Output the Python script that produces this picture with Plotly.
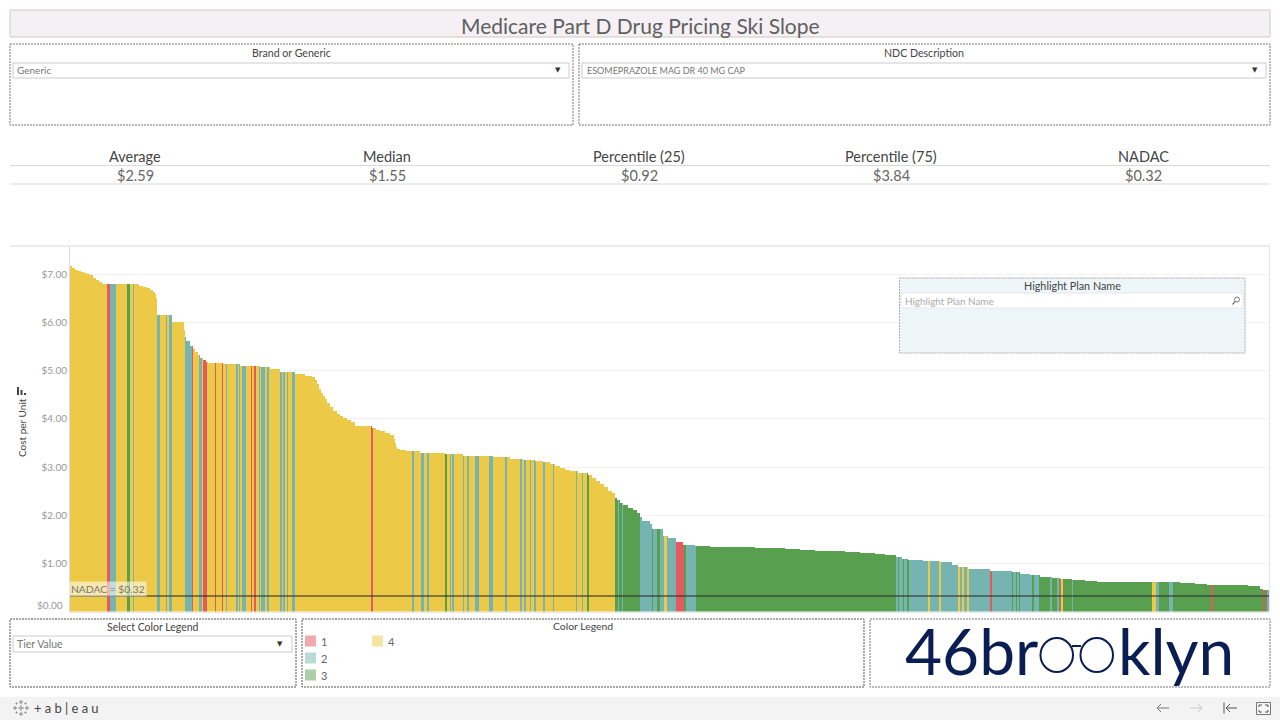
import numpy as np
import plotly.graph_objects as go

# ---- Data -----------------------------------------------------------------
TITLE = "Medicare Part D Drug Pricing Ski Slope"
kpi_names = ["Average", "Median", "Percentile (25)", "Percentile (75)", "NADAC"]
kpi_values = ["$2.59", "$1.55", "$0.92", "$3.84", "$0.32"]
nadac_cost = 0.32
y_ticks = [0, 1, 2, 3, 4, 5, 6, 7]
y_tick_labels = ["$0.00", "$1.00", "$2.00", "$3.00", "$4.00", "$5.00", "$6.00", "$7.00"]
tier_names = ["1", "2", "3", "4"]
tier_colors = {1: "#E45A5E", 2: "#76B4B1", 3: "#58A04F", 4: "#ECC946"}
legend_colors = {1: "#F2A9AB", 2: "#BADAD8", 3: "#ABCFA6", 4: "#F6E4A2"}

# Plans ordered by cost: each run ends at a plan rank and holds one cost.
cost_run_end = [2, 5, 8, 11, 14, 17, 20, 23, 26, 29, 32, 35, 69, 73, 77, 80, 83, 85, 86, 87,
                102, 114, 115, 116, 120, 123, 125, 128, 130, 133, 136, 138, 153, 170, 190, 200, 210, 225,
                235, 242, 245, 247, 249, 251, 253, 255, 257, 260, 263, 267, 270, 273, 277, 281, 285, 289,
                302, 306, 310, 315, 320, 324, 325, 326, 327, 330, 336, 350, 375, 393, 410, 423, 440, 453,
                465, 473, 480, 485, 490, 495, 500, 508, 518, 522, 526, 530, 534, 538, 542, 545, 547, 550,
                553, 558, 563, 567, 570, 572, 580, 582, 593, 598, 606, 613,
                625, 632, 640, 655, 670, 685, 700, 715, 730, 745, 760, 775, 790, 805, 815,
                826, 832, 838, 853, 870, 882, 888, 898, 920, 942, 950, 960, 970, 982, 990, 1002, 1015, 1027, 1045, 1063,
                1110, 1125, 1137, 1163, 1178, 1190, 1193, 1199]
cost_run_value = [7.17, 7.14, 7.10, 7.08, 7.06, 7.04, 7.01, 6.99, 6.93, 6.89, 6.84, 6.81, 6.80, 6.77, 6.74, 6.72,
                  6.68, 6.64, 6.60, 6.51,
                  6.16, 6.01, 5.85, 5.70, 5.62, 5.52, 5.45, 5.39, 5.33, 5.27, 5.22, 5.19, 5.16, 5.14, 5.10, 5.07, 5.03, 4.98,
                  4.93, 4.90, 4.87, 4.81, 4.73, 4.62, 4.54, 4.48, 4.41, 4.33, 4.25, 4.16, 4.11, 4.06, 4.02, 3.98, 3.94, 3.86,
                  3.85, 3.82, 3.77, 3.74, 3.71, 3.67, 3.58, 3.50, 3.42, 3.38, 3.35, 3.33, 3.30, 3.27, 3.24, 3.22, 3.20, 3.17,
                  3.15, 3.13, 3.10, 3.07, 3.02, 2.98, 2.94, 2.91, 2.88, 2.84, 2.77, 2.71, 2.65, 2.59, 2.51, 2.46, 2.36, 2.32,
                  2.25, 2.21, 2.16, 2.11, 2.05, 1.96, 1.89, 1.82, 1.72, 1.57, 1.53, 1.44,
                  1.38, 1.37, 1.36, 1.35, 1.34, 1.33, 1.32, 1.31, 1.29, 1.28, 1.26, 1.25, 1.23, 1.21, 1.19,
                  1.17, 1.13, 1.10, 1.06, 1.04, 1.02, 0.97, 0.92, 0.88, 0.85, 0.82, 0.78, 0.76, 0.72, 0.70, 0.68, 0.66, 0.64, 0.62, 0.61,
                  0.61, 0.59, 0.57, 0.56, 0.55, 0.53, 0.47, 0.45]

# Tier of the plans, as runs over the same ranks.
tier_run_end = [37, 40, 46, 57, 60, 63, 64, 87, 90, 96, 97, 99, 102, 115, 122, 123, 129, 132, 133, 137, 145, 146,
                152, 153, 156, 157, 166, 168, 169, 170, 172, 176, 181, 182, 184, 186, 189, 190, 191, 195, 197, 199,
                210, 212, 213, 215, 217, 218, 222, 225, 301, 303, 342, 344, 351, 354, 357, 359, 375, 377, 380, 381,
                382, 384, 393, 394, 397, 399, 405, 409, 419, 423, 435, 437, 450, 452, 454, 456, 460, 461, 464, 466,
                473, 475, 483, 484, 506, 507, 512, 513, 517, 519, 545, 548, 549, 552, 553, 570, 582, 583, 587, 590,
                594, 597, 606, 614, 616, 626, 826, 828, 829, 833, 834, 837, 839, 858, 860, 869, 871, 888, 890, 892,
                894, 897, 899, 920, 922, 942, 943, 946, 947, 949, 950, 962, 964, 969, 980, 982, 987, 989, 990, 991,
                993, 1002, 1003, 1082, 1086, 1089, 1099, 1103, 1141, 1143, 1192, 1193, 1196, 1197, 1199]
tier_run_id = [4, 1, 2, 4, 3, 4, 2, 4, 2, 4, 2, 4, 2, 4, 2, 1, 4, 2, 4, 1, 4, 1,
               4, 1, 4, 2, 4, 2, 4, 2, 4, 2, 4, 1, 4, 1, 4, 2, 4, 2, 4, 2,
               4, 2, 4, 2, 4, 2, 4, 2, 4, 1, 4, 2, 4, 2, 4, 2, 4, 3, 4, 2,
               4, 2, 4, 2, 4, 2, 4, 2, 4, 2, 4, 2, 4, 2, 4, 2, 4, 2, 4, 2,
               4, 2, 4, 2, 4, 2, 4, 2, 4, 3, 4, 3, 2, 3, 2, 3, 2, 3, 2, 3,
               2, 4, 2, 1, 3, 2, 3, 2, 3, 2, 3, 2, 3, 2, 4, 2, 4, 2, 4, 2,
               4, 2, 4, 2, 1, 2, 3, 2, 3, 2, 3, 2, 3, 2, 3, 2, 3, 2, 3, 1,
               4, 3, 2, 3, 4, 2, 3, 2, 3, 1, 3, 1, 3, 1, 2]

# ---- Expand the runs to one record per plan ---------------------------------
cost_lengths = np.diff([0] + cost_run_end)
tier_lengths = np.diff([0] + tier_run_end)
plan_cost = np.repeat(cost_run_value, cost_lengths)
plan_tier = np.repeat(tier_run_id, tier_lengths)
plan_rank = np.arange(len(plan_cost)) + 0.5

W, H = 1280, 720
PX0, PX1, PY0, PY1 = 70, 1269, 246, 611.5
PX_PER_DOLLAR = 48.14


def fx(x):
    return x / W


def fy(y):
    return 1 - y / H


shapes = []
annotations = []


def rect(x0, y0, x1, y1, fill=None, line=None, width=1, dash=None):
    ln = dict(width=width if line else 0)
    if line:
        ln["color"] = line
    if dash:
        ln["dash"] = dash
    shapes.append(dict(type="rect", xref="paper", yref="paper", x0=fx(x0), x1=fx(x1), y0=fy(y0), y1=fy(y1),
                       fillcolor=fill or "rgba(0,0,0,0)", line=ln, layer="above"))


def seg(x0, y0, x1, y1, color, width=1):
    shapes.append(dict(type="line", xref="paper", yref="paper", x0=fx(x0), x1=fx(x1), y0=fy(y0), y1=fy(y1),
                       line=dict(color=color, width=width), layer="above"))


def circle(x0, y0, x1, y1, color, width=1):
    shapes.append(dict(type="circle", xref="paper", yref="paper", x0=fx(x0), x1=fx(x1), y0=fy(y0), y1=fy(y1),
                       line=dict(color=color, width=width), layer="above"))


def text(x, y, s, size=11, color="#555555", anchor="center", family="Lato", **kw):
    kw.setdefault("borderpad", 0)
    annotations.append(dict(xref="paper", yref="paper", x=fx(x), y=fy(y), text=s, showarrow=False,
                            xanchor=anchor, yanchor="middle", font=dict(size=size, color=color, family=family), **kw))


DOT = "2px,1px"
BOX = "#777777"

# Title
rect(10, 10, 1270, 37, fill="#F5F0F4", line="#CFC9C2")
text(640, 25.5, TITLE, size=21, color="#606060")

# Filters
rect(10, 44, 573, 125, line=BOX, dash=DOT)
text(291, 53, "Brand or Generic", size=10.6, color="#444444")
rect(13, 63, 569, 78, fill="#FFFFFF", line="#CCCCCC")
text(16, 70.5, "Generic", size=10, color="#777777", anchor="left")
text(558, 69.5, "▼", size=7, color="#333333", family="DejaVu Sans")

rect(579, 44, 1270, 125, line=BOX, dash=DOT)
text(924, 53, "NDC Description", size=10.6, color="#444444")
rect(582, 63, 1266, 78, fill="#FFFFFF", line="#CCCCCC")
text(586, 70.5, "ESOMEPRAZOLE MAG DR 40 MG CAP", size=9, color="#777777", anchor="left")
text(1255, 69.5, "▼", size=7, color="#333333", family="DejaVu Sans")

# KPI strip
seg(10, 165.5, 1270, 165.5, "#D9D9D9")
seg(10, 184, 1270, 184, "#D9D9D9")
for cx, name, val in zip([135, 387, 639, 891, 1143], kpi_names, kpi_values):
    text(cx, 156.5, name, size=14.5, color="#444444")
    text(cx, 175.5, val, size=14.5, color="#666666")

# Chart frame
seg(10, 246, 1270, 246, "#DDDDDD")
seg(1269.5, 246, 1269.5, 611, "#E6E6E6")
text(22, 428, "Cost per Unit", size=10, color="#444444", textangle=-90)
for bx, by in [(17, 387), (20.5, 390), (24, 393)]:
    rect(bx, by, bx + 2, 395, fill="#444444")
text(63.5, 605, y_tick_labels[0], size=10, color="#999999", anchor="right")

# NADAC reference label
text(108, 589, "NADAC = " + kpi_values[4], size=10.3, color="#777777", bgcolor="rgba(255,255,255,0.55)", borderpad=1)
shapes.append(dict(type="line", xref="x", yref="y", x0=0, x1=len(plan_cost), y0=nadac_cost, y1=nadac_cost,
                   line=dict(color="rgba(45,45,45,0.55)", width=2), layer="above"))

# Highlight box
rect(899.5, 278, 1245, 353, fill="#EFF6FA", line="#AAAAAA", dash=DOT)
text(1072, 285.5, "Highlight Plan Name", size=10.8, color="#444444")
rect(901, 293, 1243, 308, fill="#FFFFFF", line="#E4E8EA")
text(904, 300.5, "Highlight Plan Name", size=9.9, color="#AAAAAA", anchor="left")
circle(1234.5, 297, 1239.5, 302, "#777777", 1)
seg(1235, 301.5, 1232.5, 304.5, "#777777", 1.2)

# Bottom widgets
rect(10, 619, 296, 687, line="#555555", dash=DOT)
text(153, 627, "Select Color Legend", size=10.5, color="#444444")
rect(13, 636, 292, 652, fill="#FFFFFF", line="#CCCCCC")
text(16, 644, "Tier Value", size=10.5, color="#777777", anchor="left")
text(280, 643.5, "▼", size=7, color="#333333", family="DejaVu Sans")

rect(302, 619, 864, 687, line="#555555", dash=DOT)
text(583, 626, "Color Legend", size=10.4, color="#444444")
for tier, lx, ly in [(1, 305, 641), (2, 305, 658), (3, 305, 675), (4, 372, 641)]:
    rect(lx, ly - 5.5, lx + 11, ly + 5.5, fill=legend_colors[tier])
    text(lx + 15, ly, tier_names[tier - 1], size=11, color="#666666", anchor="left")

# Logo
rect(870, 619, 1270, 687, line="#777777", dash=DOT)
NAVY = "#0B1E54"
text(904, 650.5, "46br", size=64, color=NAVY, anchor="left", family="Lato")
text(1117, 650.5, "klyn", size=64, color=NAVY, anchor="left", family="Lato")
circle(1040.5, 638, 1073, 672, NAVY, 2)
circle(1080.5, 638, 1113, 672, NAVY, 2)
seg(1072, 646, 1081, 646, NAVY, 2)

# Footer
rect(0, 697, 1280, 720, fill="#F3F3F3")
text(33, 708, "+\u2005a\u2005b\u2005|\u2005e\u2005a\u2005u", size=13, color="#444444", anchor="left")
for dx, dy, r in [(21, 708, 3), (15, 708, 2), (27, 708, 2), (21, 702, 2), (21, 714, 2),
                  (16.5, 703.5, 1), (25.5, 703.5, 1), (16.5, 712.5, 1), (25.5, 712.5, 1)]:
    seg(dx - r, dy, dx + r, dy, "#888888", 1)
    seg(dx, dy - r, dx, dy + r, "#888888", 1)

for x0, x1, c in [(1169, 1157, "#777777")]:
    seg(x0, 708, x1, 708, c)
    seg(x1, 708, x1 + 4, 704, c)
    seg(x1, 708, x1 + 4, 712, c)
seg(1190, 708, 1202, 708, "#C8C8C8")
seg(1202, 708, 1198, 704, "#C8C8C8")
seg(1202, 708, 1198, 712, "#C8C8C8")
seg(1224, 702.5, 1224, 713.5, "#555555")
seg(1237, 708, 1226, 708, "#555555")
seg(1226, 708, 1230, 704, "#555555")
seg(1226, 708, 1230, 712, "#555555")
rect(1256.5, 702.5, 1270.5, 714.5, fill="#F6F6F6", line="#777777")
for a, b, c, d in [(1259, 705, 1262, 705), (1259, 705, 1259, 707), (1268, 705, 1265, 705), (1268, 705, 1268, 707),
                   (1259, 712, 1262, 712), (1259, 712, 1259, 710), (1268, 712, 1265, 712), (1268, 712, 1268, 710)]:
    seg(a, b, c, d, "#555555")

# ---- Figure ----------------------------------------------------------------
fig = go.Figure()
for tier in [4, 2, 3, 1]:
    mask = plan_tier == tier
    fig.add_trace(go.Bar(x=plan_rank[mask], y=plan_cost[mask], width=1, name=tier_names[tier - 1],
                         marker=dict(color=tier_colors[tier], line=dict(width=0)), showlegend=False,
                         hovertemplate="Rank %{x}<br>Cost per Unit $%{y:.2f}<extra>Tier " + tier_names[tier - 1] + "</extra>"))

fig.update_layout(
    width=W, height=H, autosize=False,
    margin=dict(l=0, r=0, t=0, b=0),
    paper_bgcolor="#FFFFFF", plot_bgcolor="#FFFFFF",
    barmode="overlay", bargap=0,
    font=dict(family="Lato", color="#555555"),
    xaxis=dict(domain=[fx(PX0), fx(PX1)], range=[0, len(plan_cost)], showticklabels=False, showgrid=False,
               zeroline=False, ticks="", showline=True, linecolor="#E6E6E6"),
    yaxis=dict(domain=[fy(PY1), fy(PY0)], range=[0, (PY1 - PY0) / PX_PER_DOLLAR], tickvals=y_ticks,
               ticktext=[""] + y_tick_labels[1:], tickfont=dict(size=10, color="#999999", family="Lato"),
               showgrid=True, gridcolor="#F2F2F2", gridwidth=1, zeroline=False, ticks="",
               showline=True, linecolor="#DDDDDD"),
    shapes=shapes, annotations=annotations,
)

fig.write_html("out.html", post_script="document.body.style.margin='0';document.body.style.overflow='hidden';",
               config=dict(displayModeBar=False))
